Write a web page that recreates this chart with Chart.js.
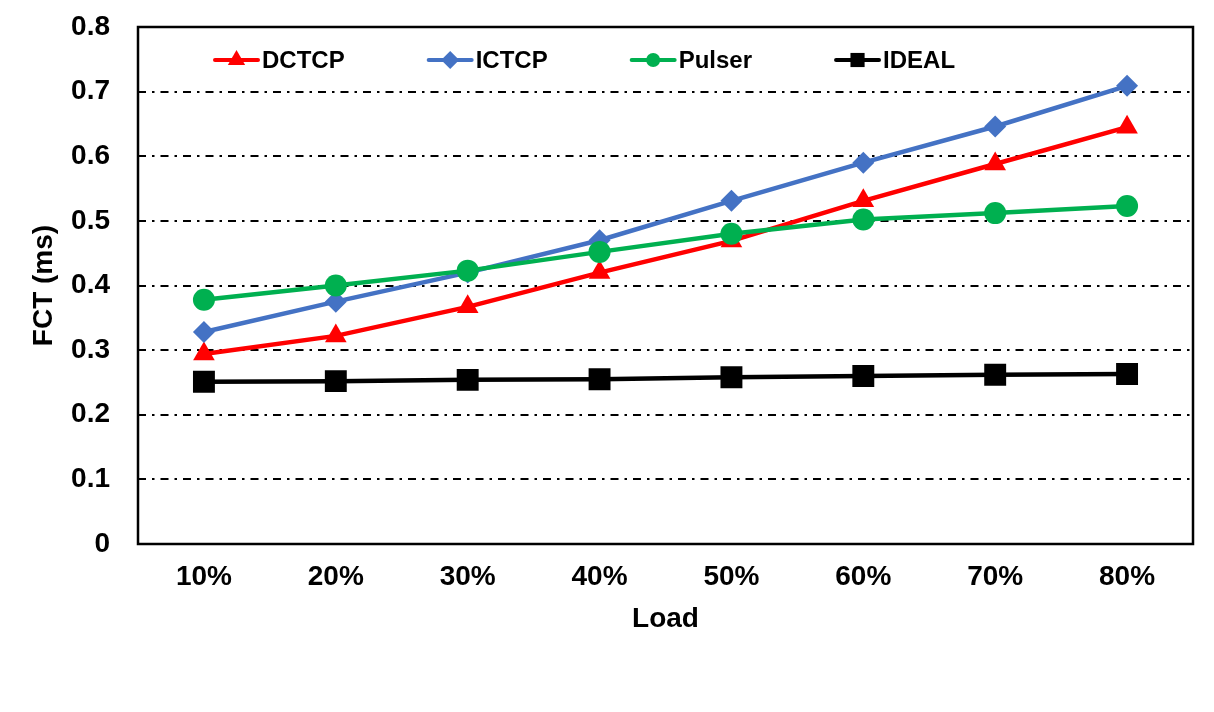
<!DOCTYPE html>
<html>
<head>
<meta charset="utf-8">
<script src="https://cdn.jsdelivr.net/npm/chart.js@4.4.1/dist/chart.umd.min.js"></script>
<style>
  html, body { margin: 0; padding: 0; background: #ffffff; }
  #wrap { width: 1214px; height: 712px; }
</style>
</head>
<body>
<div id="wrap"><canvas id="fctChart" width="1214" height="712"></canvas></div>
<script>
// Chart data
const loadLabels = ['10%', '20%', '30%', '40%', '50%', '60%', '70%', '80%'];
const dctcpFct  = [0.294, 0.322, 0.367, 0.420, 0.469, 0.531, 0.588, 0.645];
const ictcpFct  = [0.328, 0.375, 0.420, 0.470, 0.531, 0.590, 0.646, 0.709];
const pulserFct = [0.378, 0.400, 0.423, 0.452, 0.480, 0.502, 0.512, 0.523];
const idealFct  = [0.251, 0.252, 0.254, 0.255, 0.258, 0.260, 0.262, 0.263];
const yTicks = [0, 0.1, 0.2, 0.3, 0.4, 0.5, 0.6, 0.7, 0.8];

const fontFamily = '"Liberation Sans", Arial, sans-serif';

// draw a small marker for the legend
function drawMarker(ctx, style, x, y, r, color) {
    ctx.save();
    ctx.fillStyle = color;
    ctx.beginPath();
    if (style === 'triangle') {
        ctx.moveTo(x, y - r);
        ctx.lineTo(x + r * 0.866, y + r / 2);
        ctx.lineTo(x - r * 0.866, y + r / 2);
        ctx.closePath();
    } else if (style === 'rectRot') {
        ctx.moveTo(x, y - r);
        ctx.lineTo(x + r, y);
        ctx.lineTo(x, y + r);
        ctx.lineTo(x - r, y);
        ctx.closePath();
    } else if (style === 'circle') {
        ctx.arc(x, y, r, 0, Math.PI * 2);
    } else {
        const s = r * Math.SQRT1_2;
        ctx.rect(x - s, y - s, s * 2, s * 2);
    }
    ctx.fill();
    ctx.restore();
}

// legend inside the plot + frame around the plot area
const insideLegend = {
    id: 'insideLegend',
    afterDraw(chart) {
        const ctx = chart.ctx;
        const area = chart.chartArea;

        ctx.save();
        ctx.strokeStyle = '#000000';
        ctx.lineWidth = 2.5;
        ctx.strokeRect(area.left, area.top, area.right - area.left, area.bottom - area.top);
        ctx.restore();

        const legendR = { triangle: 10, rectRot: 9, circle: 7, rect: 10 };
        let x = area.left + 77;
        const y = area.top + 33;
        ctx.save();
        ctx.font = 'bold 24px ' + fontFamily;
        ctx.textBaseline = 'middle';
        chart.data.datasets.forEach(ds => {
            ctx.strokeStyle = ds.borderColor;
            ctx.lineWidth = 4;
            ctx.lineCap = 'round';
            ctx.beginPath();
            ctx.moveTo(x, y);
            ctx.lineTo(x + 43, y);
            ctx.stroke();
            drawMarker(ctx, ds.pointStyle, x + 21.5, y, legendR[ds.pointStyle], ds.borderColor);
            ctx.fillStyle = '#000000';
            ctx.fillText(ds.label, x + 47, y + 1);
            x += 47 + ctx.measureText(ds.label).width + 84;
        });
        ctx.restore();
    }
};

function initializeFctChart() {
    const ctx = document.getElementById('fctChart');
    if (!ctx) return;

    return new Chart(ctx.getContext('2d'), {
        type: 'line',
        data: {
            labels: loadLabels,
            datasets: [
                {
                    label: 'DCTCP', data: dctcpFct,
                    borderColor: '#ff0000', backgroundColor: '#ff0000',
                    borderWidth: 4.5, pointStyle: 'triangle', pointRadius: 12.5,
                    pointBorderWidth: 0, order: 4
                },
                {
                    label: 'ICTCP', data: ictcpFct,
                    borderColor: '#4472c4', backgroundColor: '#4472c4',
                    borderWidth: 4.5, pointStyle: 'rectRot', pointRadius: 11,
                    pointBorderWidth: 0, order: 3
                },
                {
                    label: 'Pulser', data: pulserFct,
                    borderColor: '#00b050', backgroundColor: '#00b050',
                    borderWidth: 4.5, pointStyle: 'circle', pointRadius: 11,
                    pointBorderWidth: 0, order: 2
                },
                {
                    label: 'IDEAL', data: idealFct,
                    borderColor: '#000000', backgroundColor: '#000000',
                    borderWidth: 4.5, pointStyle: 'rect', pointRadius: 15.5,
                    pointBorderWidth: 0, order: 1
                }
            ]
        },
        options: {
            responsive: false,
            animation: false,
            layout: {
                padding: { top: 27, right: 21, left: 0, bottom: 68 }
            },
            plugins: {
                legend: { display: false },
                tooltip: { enabled: false }
            },
            elements: {
                line: { tension: 0 }
            },
            scales: {
                x: {
                    offset: true,
                    grid: { display: false, drawTicks: false },
                    border: { display: false },
                    ticks: {
                        color: '#000000',
                        padding: 16,
                        font: { family: fontFamily, size: 28, weight: 'bold' }
                    },
                    title: {
                        display: true,
                        text: 'Load',
                        color: '#000000',
                        padding: { top: 0, bottom: 8 },
                        font: { family: fontFamily, size: 28, weight: 'bold' }
                    },
                    afterFit(scale) { scale.height = 100; }
                },
                y: {
                    min: 0,
                    max: 0.8,
                    afterBuildTicks(scale) {
                        scale.ticks = yTicks.map(v => ({ value: v }));
                    },
                    grid: {
                        color: '#000000',
                        lineWidth: 2,
                        drawTicks: false
                    },
                    border: { display: false, dash: [8, 6, 2.5, 6] },
                    ticks: {
                        color: '#000000',
                        padding: 28,
                        font: { family: fontFamily, size: 28, weight: 'bold' },
                        callback: v => String(Math.round(v * 10) / 10)
                    },
                    title: {
                        display: true,
                        text: 'FCT (ms)',
                        color: '#000000',
                        padding: { top: 27, bottom: 0 },
                        font: { family: fontFamily, size: 28, weight: 'bold' }
                    },
                    afterFit(scale) {
                        scale.width = 138;
                        // let the layout padding decide the top of the plot
                        scale.paddingTop = 0;
                        scale.paddingBottom = 0;
                    }
                }
            }
        },
        plugins: [insideLegend]
    });
}

initializeFctChart();
</script>
</body>
</html>
